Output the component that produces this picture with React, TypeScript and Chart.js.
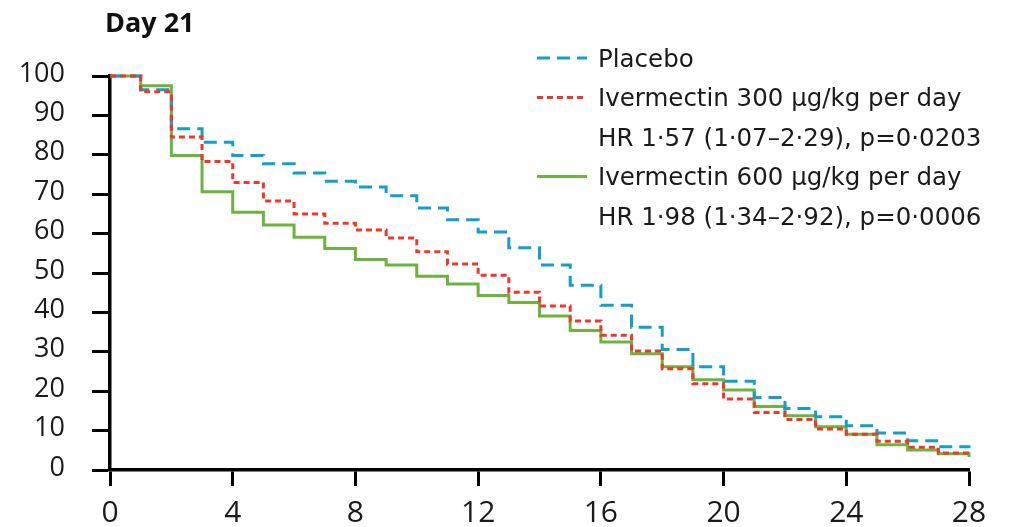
import React, { useEffect, useRef } from 'react';
import { Chart, registerables } from 'chart.js';

Chart.register(...registerables);

const days = [0, 1, 2, 3, 4, 5, 6, 7, 8, 9, 10, 11, 12, 13, 14, 15, 16, 17, 18, 19, 20, 21, 22, 23, 24, 25, 26, 27, 28];
const placebo = [100, 96.5, 86.6, 83.2, 79.8, 77.7, 75.4, 73.3, 71.8, 69.6, 66.5, 63.5, 60.4, 56.4, 52.0, 46.9, 41.8, 36.2, 30.6, 26.2, 22.5, 18.4, 15.6, 13.5, 11.2, 9.4, 7.4, 5.9, 5.5];
const iver300 = [100, 96.0, 84.5, 78.3, 73.0, 68.3, 65.0, 62.6, 60.9, 58.9, 55.4, 52.3, 49.4, 45.1, 41.6, 37.8, 34.2, 30.2, 25.7, 21.9, 18.0, 14.6, 12.8, 10.4, 9.1, 7.3, 5.8, 4.3, 3.3];
const iver600 = [100, 97.5, 79.8, 70.6, 65.4, 62.2, 59.1, 56.2, 53.4, 52.0, 49.2, 47.2, 44.3, 42.5, 39.1, 35.4, 32.5, 29.5, 26.2, 22.9, 20.3, 16.1, 13.8, 11.0, 9.1, 6.4, 5.1, 4.1, 3.3];
const xTickValues = [0, 4, 8, 12, 16, 20, 24, 28];
const yTickValues = [0, 10, 20, 30, 40, 50, 60, 70, 80, 90, 100];
const titleText = 'Day 21';
const placeboLabel = ['Placebo'];
const iver300Label = ['Ivermectin 300 μg/kg per day', 'HR 1·57 (1·07–2·29), p=0·0203'];
const iver600Label = ['Ivermectin 600 μg/kg per day', 'HR 1·98 (1·34–2·92), p=0·0006'];

const FONT = '"Open Sans", "Noto Sans", sans-serif';
const LEGEND_FONT = '"DejaVu Sans", "Open Sans", sans-serif';
const BLUE = '#139fc8';
const RED = '#f0372b';
const GREEN = '#6cb33f';

const legendPlugin = {
  id: 'kmLegend',
  afterDraw(chart: any) {
    const ctx = chart.ctx as CanvasRenderingContext2D;
    ctx.save();
    ctx.fillStyle = '#111';
    ctx.textBaseline = 'alphabetic';
    ctx.textAlign = 'left';
    ctx.font = `bold 27px ${FONT}`;
    ctx.fillText(titleText, 105, 32);

    ctx.font = `24.5px ${LEGEND_FONT}`;
    let baseline = 66.5;
    const step = 39.5;
    chart.data.datasets.forEach((ds: any) => {
      const lines: string[] = ds.legendLines;
      const ly = baseline - 8.5;
      ctx.save();
      ctx.strokeStyle = ds.borderColor;
      ctx.lineWidth = ds.borderWidth;
      ctx.setLineDash(ds.borderDash || []);
      ctx.beginPath();
      ctx.moveTo(537, ly);
      ctx.lineTo(587, ly);
      ctx.stroke();
      ctx.restore();
      lines.forEach((t) => {
        ctx.fillStyle = '#1a1a1a';
        ctx.fillText(t, 598, baseline);
        baseline += step;
      });
    });
    ctx.restore();
  },
};

function toPoints(vals: number[]) {
  return days.map((d, i) => ({ x: d, y: vals[i] }));
}

export default function App() {
  const ref = useRef<HTMLCanvasElement | null>(null);

  useEffect(() => {
    if (!ref.current) return;
    const chart = new Chart(ref.current, {
      type: 'line',
      data: {
        datasets: [
          {
            label: placeboLabel[0],
            legendLines: placeboLabel,
            data: toPoints(placebo),
            borderColor: BLUE,
            borderWidth: 3,
            borderDash: [13, 7],
            stepped: true,
            pointRadius: 0,
            fill: false,
            clip: false,
            order: 1,
          } as any,
          {
            label: iver300Label[0],
            legendLines: iver300Label,
            data: toPoints(iver300),
            borderColor: RED,
            borderWidth: 3,
            borderDash: [6, 4],
            stepped: true,
            pointRadius: 0,
            fill: false,
            clip: false,
            order: 0,
          } as any,
          {
            label: iver600Label[0],
            legendLines: iver600Label,
            data: toPoints(iver600),
            borderColor: GREEN,
            borderWidth: 3,
            stepped: true,
            pointRadius: 0,
            fill: false,
            clip: false,
            order: 2,
          } as any,
        ],
      },
      options: {
        responsive: false,
        animation: false,
        layout: { padding: { top: 76, right: 49, left: 0, bottom: 0 } },
        plugins: {
          legend: { display: false },
          title: { display: false },
          tooltip: { enabled: false },
        },
        scales: {
          x: {
            type: 'linear',
            min: 0,
            max: 28,
            afterFit: (scale: any) => {
              scale.height = 57;
            },
            afterBuildTicks: (scale: any) => {
              scale.ticks = xTickValues.map((v) => ({ value: v }));
            },
            grid: {
              drawOnChartArea: false,
              drawTicks: true,
              tickLength: 16,
              tickColor: '#000',
              tickWidth: 3,
            },
            border: { color: '#000', width: 3.5 },
            ticks: {
              color: '#1a1a1a',
              font: { family: FONT, size: 30 },
              padding: 9,
              maxRotation: 0,
            },
          },
          y: {
            type: 'linear',
            min: 0,
            max: 100,
            afterFit: (scale: any) => {
              scale.width = 110;
            },
            afterBuildTicks: (scale: any) => {
              scale.ticks = yTickValues.map((v) => ({ value: v }));
            },
            grid: {
              drawOnChartArea: false,
              drawTicks: true,
              tickLength: 18,
              tickColor: '#000',
              tickWidth: 3,
            },
            border: { color: '#000', width: 3.5 },
            ticks: {
              color: '#1a1a1a',
              font: { family: FONT, size: 27 },
              padding: 27,
              labelOffset: -2,
            },
          },
        },
      } as any,
      plugins: [legendPlugin],
    });
    return () => chart.destroy();
  }, []);

  return (
    <div style={{ position: 'absolute', left: 0, top: 0, width: 1018, height: 527, background: '#fff' }}>
      <canvas ref={ref} width={1018} height={527} style={{ width: 1018, height: 527, display: 'block' }} />
    </div>
  );
}
